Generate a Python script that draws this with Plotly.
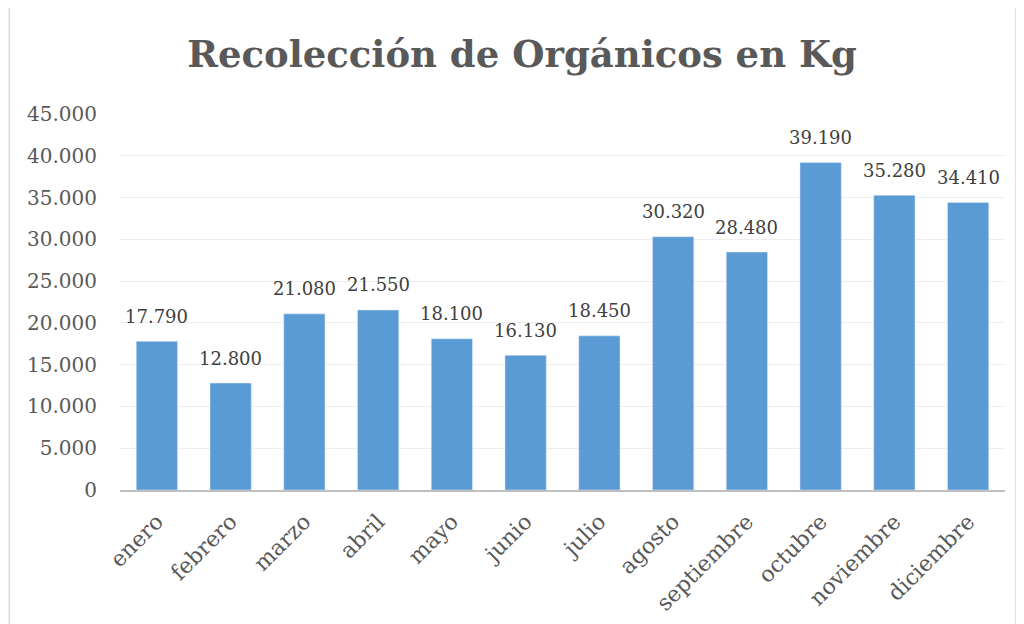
import plotly.graph_objects as go

months = ["enero", "febrero", "marzo", "abril", "mayo", "junio", "julio",
          "agosto", "septiembre", "octubre", "noviembre", "diciembre"]
values = [17790, 12800, 21080, 21550, 18100, 16130, 18450,
          30320, 28480, 39190, 35280, 34410]
tick_vals = [0, 5000, 10000, 15000, 20000, 25000, 30000, 35000, 40000, 45000]
tick_text = ["0", "5.000", "10.000", "15.000", "20.000", "25.000",
             "30.000", "35.000", "40.000", "45.000"]
labels = [f"{v:,}".replace(",", ".") for v in values]

FONT = "DejaVu Serif"

fig = go.Figure(go.Bar(
    x=months, y=values,
    marker=dict(color="#5b9bd5"),
))

annotations = [dict(x=m, y=v, text=t, showarrow=False, xanchor="center",
                    yanchor="middle", yshift=25,
                    font=dict(family=FONT, size=18, color="#404040"))
               for m, v, t in zip(months, values, labels)]

fig.update_layout(
    width=1016, height=616,
    margin=dict(l=112, r=19, t=106, b=134),
    paper_bgcolor="white", plot_bgcolor="white",
    bargap=0.44,
    showlegend=False,
    title=dict(text="<b>Recolección de Orgánicos en Kg</b>", x=0.506, xanchor="center",
               xref="container", y=0.925, yanchor="middle",
               font=dict(family=FONT, size=37, color="#595959")),
    xaxis=dict(tickangle=-45, tickfont=dict(family=FONT, size=22, color="#595959"),
               showline=True, linecolor="#bfbfbf", linewidth=2, ticks="",
               showgrid=False, ticklabelstandoff=8, automargin=False),
    yaxis=dict(range=[0, 45000], tickvals=tick_vals, ticktext=tick_text,
               tickfont=dict(family=FONT, size=20, color="#595959"),
               showgrid=True, gridcolor="#eeeeee", gridwidth=1,
               zeroline=False, showline=False, ticks="", ticklabelstandoff=22,
               automargin=False),
    annotations=annotations,
    shapes=[dict(type="rect", xref="paper", yref="paper",
                 x0=-0.125, x1=1.0124, y0=-0.36, y1=1.3,
                 line=dict(color="#d9d9d9", width=1.5), fillcolor="rgba(0,0,0,0)")],
)

fig.write_html("out.html")
